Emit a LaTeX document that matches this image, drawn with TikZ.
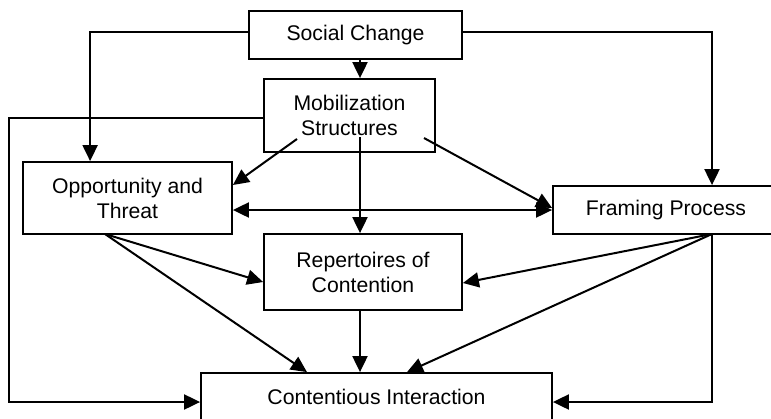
\documentclass[tikz,border=0pt]{standalone}
\usepackage{fontspec}
\setmainfont{Liberation Sans}
\usetikzlibrary{arrows.meta}
\begin{document}
\begin{tikzpicture}[x=1pt,y=-1pt,
  box/.style={draw, line width=1.8pt, inner sep=0pt, align=center,
    font=\fontsize{21.2}{25}\selectfont},
  link/.style={line width=2pt},
  arr/.style={link, -{Triangle[length=16pt,width=15pt]}},
  biarr/.style={link, {Triangle[length=16pt,width=15pt]}-{Triangle[length=16pt,width=15pt]}}]
\useasboundingbox (0,0) rectangle (771,418);
\clip (0,0) rectangle (771,418);

% boxes
\node[box, minimum width=213pt, minimum height=48pt] (sc)  at (355.5,35)  {Social Change};
\node[box, minimum width=171pt, minimum height=73pt] (mob) at (349.5,115.5) {Mobilization\\Structures};
\node[box, minimum width=209pt, minimum height=72pt] (opp) at (127.5,198) {Opportunity and\\Threat};
\node[box, minimum width=226pt, minimum height=48pt] (fr)  at (666,210)   {Framing Process};
\node[box, minimum width=198pt, minimum height=76pt] (rep) at (363,272)   {Repertoires of\\Contention};
\node[box, minimum width=351pt, minimum height=48pt] (ci)  at (376.5,397) {Contentious Interaction};

% attachment points
\coordinate (mL) at (297,139);
\coordinate (mC) at (360,137);
\coordinate (mR) at (424,138);
\coordinate (oB) at (105,234);
\coordinate (fB) at (712,234);
\coordinate (lft) at (9,402);

% connectors
\draw[arr] ([yshift=3pt]sc.west) -| ([xshift=68pt]opp.north west);
\draw[arr] ([yshift=3pt]sc.east) -| ([xshift=46pt]fr.north);
\draw[arr] ([xshift=4.5pt]sc.south) -- ([xshift=4.5pt]sc.south |- mob.north);
\draw[arr] ([yshift=-2.5pt]mob.west) -| (lft) -- ([yshift=-5pt]ci.west);
\draw[arr] (mL) -- ([yshift=13pt]opp.east);
\draw[arr] (mR) -- ([yshift=2pt]fr.west);
\draw[arr] (mC) -- (mC |- rep.north);
\draw[biarr] ([yshift=-12pt]opp.east) -- ([yshift=-12pt]opp.east -| fr.west);
\draw[arr] (oB) -- ([yshift=-10pt]rep.west);
\draw[arr] (oB) -- ([xshift=-69.5pt]ci.north);
\draw[arr] (fB) -- ([yshift=-11pt]rep.east);
\draw[arr] (fB) -- ([xshift=30.5pt]ci.north);
\draw[arr] (fB) |- ([yshift=-5pt]ci.east);
\draw[arr] (mC |- rep.south) -- (mC |- ci.north);
\end{tikzpicture}
\end{document}
